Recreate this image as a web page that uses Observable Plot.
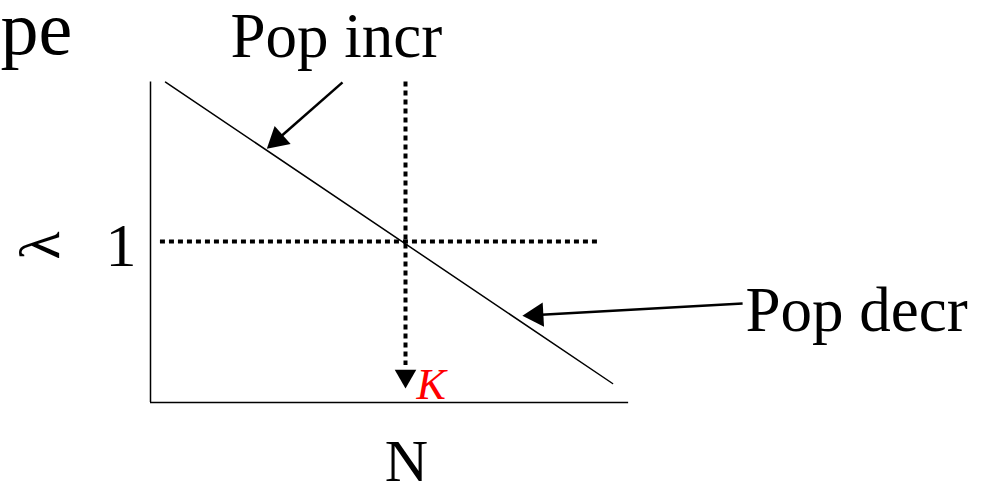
<!DOCTYPE html>
<html>
<head>
<meta charset="utf-8">
<script src="https://cdn.jsdelivr.net/npm/d3@7"></script>
<script src="https://cdn.jsdelivr.net/npm/@observablehq/plot@0.6"></script>
<style>
  html, body { margin: 0; padding: 0; background: #fff; }
</style>
</head>
<body>
<div id="chart"></div>
<script>
// Population density N, carrying capacity K, and lambda values
const K = 100;
const xAxisEnd = 187.5;
const yAxisTop = 1.99;
const lambdaLine = [
  {N: 5.9, lambda: 1.99},
  {N: 181.2, lambda: 0.118}
];
const lambdaOne = [{N1: 3.9, N2: 175.3, lambda: 1}];
const kDrop = [{N: K, top: 1.99, bottom: 0.23}];
const kArrowHead = [{N: K, lambda: 0.165}];
const annotArrows = [
  {label: "Pop incr", x1: 75.3, y1: 1.988, x2: 47.1, y2: 1.596},
  {label: "Pop decr", x1: 232.2, y1: 0.615, x2: 147.8, y2: 0.540}
];
const startLabels = [
  {text: "pe", N: -58.8, lambda: 2.167, size: 76},
  {text: "Pop incr", N: 31.4, lambda: 2.143, size: 63},
  {text: "Pop decr", N: 233.3, lambda: 0.447, size: 63},
  {text: "1", N: -17.6, lambda: 0.85, size: 62}
];
const axisTitle = [{text: "N", N: 100.4, lambda: -0.49, size: 60}];
const kLabel = [{text: "K", N: 104.3, lambda: 0.022}];
const lambdaSymbol = [{text: "λ", N: -43.1, lambda: 0.975}];

const W = 986, H = 489;
const xDomain = [-150 / 2.55, (W - 150) / 2.55];
const yDomain = [(402 - H) / 161, 402 / 161];
const xs = d3.scaleLinear(xDomain, [0, W]);
const ys = d3.scaleLinear(yDomain, [H, 0]);

// arrow head angles (pixel space)
const heads = annotArrows.map(d => {
  const dx = xs(d.x2) - xs(d.x1), dy = ys(d.y2) - ys(d.y1);
  const ang = Math.atan2(dy, dx) * 180 / Math.PI;
  const len = Math.hypot(dx, dy);
  const back = 9 / len;
  return {
    x: d.x2 - (d.x2 - d.x1) * back,
    y: d.y2 - (d.y2 - d.y1) * back,
    rot: ang + 90
  };
});
const shafts = annotArrows.map(d => {
  const len = Math.hypot(xs(d.x2) - xs(d.x1), ys(d.y2) - ys(d.y1));
  const t = 14 / len;
  return {x1: d.x1, y1: d.y1, x2: d.x2 - (d.x2 - d.x1) * t, y2: d.y2 - (d.y2 - d.y1) * t};
});

const font = "'Liberation Serif', 'Times New Roman', serif";

const chart = Plot.plot({
  width: W,
  height: H,
  margin: 0,
  x: {domain: xDomain, axis: null},
  y: {domain: yDomain, axis: null},
  style: {fontFamily: font, background: "#fff"},
  marks: [
    Plot.ruleX([0], {y1: 0, y2: yAxisTop, stroke: "black", strokeWidth: 1.5}),
    Plot.ruleY([0], {x1: 0, x2: xAxisEnd, stroke: "black", strokeWidth: 1.5}),
    Plot.line(lambdaLine, {x: "N", y: "lambda", stroke: "black", strokeWidth: 1.5}),
    Plot.ruleY(lambdaOne, {y: "lambda", x1: "N1", x2: "N2", stroke: "black", strokeWidth: 4, strokeDasharray: "5,4"}),
    Plot.ruleX(kDrop, {x: "N", y1: "top", y2: "bottom", stroke: "black", strokeWidth: 4, strokeDasharray: "5,4"}),
    Plot.dot(kArrowHead, {x: "N", y: "lambda", symbol: "triangle", r: 8, fill: "black", rotate: 180}),
    Plot.link(shafts, {x1: "x1", y1: "y1", x2: "x2", y2: "y2", stroke: "black", strokeWidth: 2.5}),
    Plot.dot(heads, {x: "x", y: "y", symbol: "triangle", r: 9, fill: "black", rotate: "rot"}),
    Plot.text(startLabels, {x: "N", y: "lambda", text: "text", fontSize: d => d.size, textAnchor: "start", lineAnchor: "bottom", fill: "black", fontFamily: font}),
    Plot.text(axisTitle, {x: "N", y: "lambda", text: "text", fontSize: 60, textAnchor: "middle", lineAnchor: "bottom", fill: "black", fontFamily: font}),
    Plot.text(kLabel, {x: "N", y: "lambda", text: "text", fontSize: 44, fontStyle: "italic", textAnchor: "start", lineAnchor: "bottom", fill: "red", fontFamily: font}),
    Plot.text(lambdaSymbol, {x: "N", y: "lambda", text: "text", fontSize: 58, rotate: -90, fill: "black", fontFamily: font})
  ]
});
document.getElementById("chart").appendChild(chart);
</script>
</body>
</html>
